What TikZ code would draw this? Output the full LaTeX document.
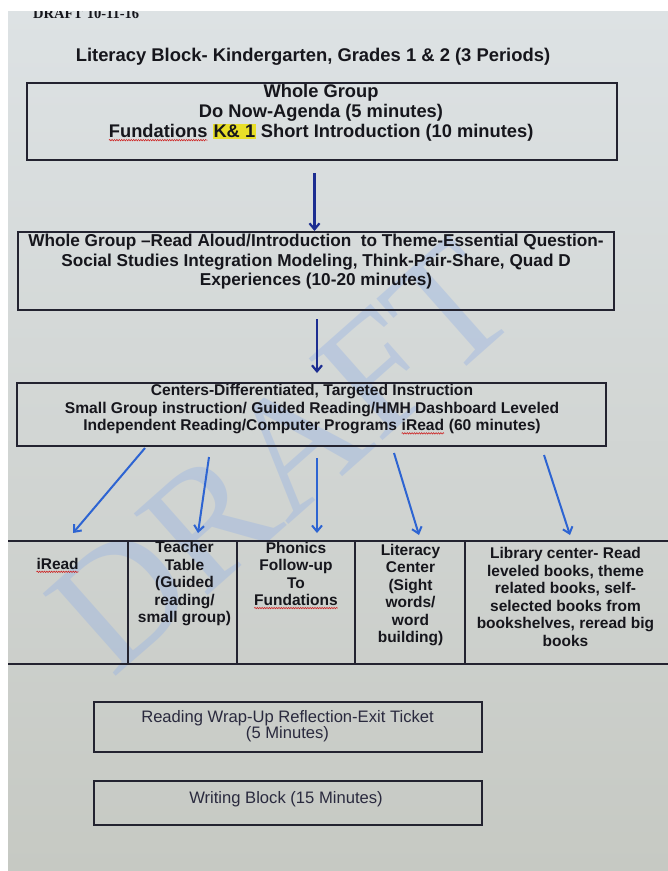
\documentclass[tikz,border=0pt]{standalone}
\usepackage{fontspec}
\setmainfont{Liberation Sans}
\newfontfamily\serifface{Liberation Serif}
\usetikzlibrary{arrows.meta,decorations.pathmorphing}
\definecolor{bgtop}{RGB}{221,226,228}
\definecolor{bgbot}{RGB}{198,201,195}
\definecolor{ink}{RGB}{22,22,28}
\definecolor{inksoft}{RGB}{42,42,62}
\definecolor{boxline}{RGB}{35,35,48}
\definecolor{navyarrow}{RGB}{28,45,145}
\definecolor{bluearrow}{RGB}{45,100,210}
\definecolor{wmblue}{RGB}{150,178,228}
\definecolor{spellred}{RGB}{205,40,40}
\definecolor{hlyellow}{RGB}{232,222,40}
\newcommand\spellchk[1]{\tikz[baseline=(spw.base)]{\node[inner sep=0pt,outer sep=0pt,draw=none,fill=none,minimum size=0pt](spw){#1};\draw[spellred,line width=0.6pt,decorate,decoration={snake,amplitude=0.7pt,segment length=2.4pt}] ([yshift=-2.4pt]spw.base west) -- ([yshift=-2.4pt]spw.base east);}}
\newcommand\hlite[1]{{\setlength{\fboxsep}{0.6pt}\colorbox{hlyellow}{#1}}}
\begin{document}
\begin{tikzpicture}[x=1pt,y=-1pt,
  boxed/.style={draw=boxline,line width=1.4pt,inner sep=0pt,outer sep=0pt,fill=none},
  boxedthick/.style={boxed,line width=2.4pt},
  bigtext/.style={font=\fontsize{18.3}{20}\selectfont\bfseries,text=ink,inner sep=0pt,align=center},
  midtext/.style={font=\fontsize{17.2}{19.5}\selectfont\bfseries,text=ink,inner sep=0pt,align=center},
  smalltext/.style={font=\fontsize{15.6}{17.5}\selectfont\bfseries,text=ink,inner sep=0pt,align=center},
  celltext/.style={font=\fontsize{15.5}{17.5}\selectfont\bfseries,text=ink,inner sep=0pt,align=center},
  lowtext/.style={font=\fontsize{16.6}{16.5}\selectfont,text=inksoft,inner sep=0pt,align=center},
  cell/.style={inner sep=0pt,outer sep=0pt,minimum height=123pt},
  tbl/.style={draw=boxline,line width=1.3pt},
  arrowA/.style={draw=navyarrow,line width=2.2pt,-{Straight Barb[length=6pt,width=10pt]}},
  arrowB/.style={draw=bluearrow,line width=2pt,-{Straight Barb[length=6pt,width=10pt]}}
]
\useasboundingbox (0,0) rectangle (668,871);
\fill[white] (0,0) rectangle (668,871);
\begin{scope}
\clip (8,11) rectangle (668,871);
\shade[top color=bgtop,bottom color=bgbot] (8,11) rectangle (668,871);
% watermark
\node[rotate=41.5,text=wmblue,opacity=0.4,inner sep=0pt,font=\fontsize{168}{168}\selectfont\serifface] (wm) at (282,456) {DRAFT};
% draft stamp
\node[anchor=base west,inner sep=0pt,text=ink,font=\fontsize{14.5}{15}\selectfont\serifface\bfseries] (stamp) at (33,18.5) {DRAFT 10-11-16};

% title
\node[bigtext,font=\fontsize{18.4}{20}\selectfont\bfseries] (title) at (313,57) {Literacy Block- Kindergarten, Grades 1 \& 2 (3 Periods)};

% box 1
\node[boxed,minimum width=590pt,minimum height=77pt] (b1) at (322,121.5) {};
\node[bigtext] (b1t) at (321,113) {Whole Group\\Do Now-Agenda (5 minutes)\\\spellchk{Fundations} \hlite{K\& 1} Short Introduction (10 minutes)};

% box 2
\node[boxed,minimum width=596pt,minimum height=78pt] (b2) at (316,271) {};
\node[midtext] (b2t) at (316,262) {Whole Group --Read Aloud/Introduction\ \ to Theme-Essential Question-\\Social Studies Integration Modeling, Think-Pair-Share, Quad D\\Experiences (10-20 minutes)};

% box 3
\node[boxed,minimum width=589pt,minimum height=63pt] (b3) at (311.5,414.5) {};
\node[smalltext] (b3t) at (312,409.5) {Centers-Differentiated, Targeted Instruction\\Small Group instruction/ Guided Reading/HMH Dashboard Leveled\\Independent Reading/Computer Programs \spellchk{iRead} (60 minutes)};

% arrows between top boxes
\draw[arrowA] ([xshift=-7.5pt,yshift=-13pt]b1.south) -- ([xshift=-1.5pt,yshift=1pt]b2.north);
\draw[arrowA] ([xshift=1pt,yshift=-9pt]b2.south) -- ([xshift=5.5pt,yshift=10pt]b3.north);

% table cells
\node[cell,minimum width=120pt] (c1) at (68,602.5) {};
\node[cell,minimum width=109pt] (c2) at (182.5,602.5) {};
\node[cell,minimum width=118pt] (c3) at (296,602.5) {};
\node[cell,minimum width=110pt] (c4) at (410,602.5) {};
\node[cell,minimum width=203pt] (c5) at (566.5,602.5) {};
\draw[tbl] (c1.north west) -- (c5.north east);
\draw[tbl] (c1.south west) -- (c5.south east);
\draw[tbl] (c1.north east) -- (c1.south east);
\draw[tbl] (c2.north east) -- (c2.south east);
\draw[tbl] (c3.north east) -- (c3.south east);
\draw[tbl] (c4.north east) -- (c4.south east);

\node[celltext,anchor=west] (t1) at (36,565.5) {\spellchk{iRead}};
\node[celltext] (t2) at (184.5,584) {Teacher\\Table\\(Guided\\reading/\\small group)};
\node[celltext] (t3) at (296,575.5) {Phonics\\Follow-up\\To\\\spellchk{Fundations}};
\node[celltext] (t4) at (410.5,595) {Literacy\\Center\\(Sight\\words/\\word\\building)};
\node[celltext] (t5) at (565.5,597) {Library center- Read\\leveled books, theme\\related books, self-\\selected books from\\bookshelves, reread big\\books};

% fan-out arrows
\coordinate (s1) at (145,448); \coordinate (e1) at (73,533);
\coordinate (s2) at (209,457); \coordinate (e2) at (198,533);
\coordinate (s3) at (317,458); \coordinate (e3) at (317,533);
\coordinate (s4) at (394,453); \coordinate (e4) at (419,535);
\coordinate (s5) at (544,455); \coordinate (e5) at (570,535);
\draw[arrowB] (s1) -- (e1);
\draw[arrowB] (s2) -- (e2);
\draw[arrowB] (s3) -- (e3);
\draw[arrowB] (s4) -- (e4);
\draw[arrowB] (s5) -- (e5);

% bottom boxes
\node[boxedthick,minimum width=388pt,minimum height=50pt] (b4) at (288,727) {};
\node[lowtext] (b4t) at (287.5,726) {Reading Wrap-Up Reflection-Exit Ticket\\(5 Minutes)};
\node[boxedthick,minimum width=388pt,minimum height=44pt] (b5) at (288,803) {};
\node[lowtext] (b5t) at (286,799) {Writing Block (15 Minutes)};
\end{scope}
\end{tikzpicture}
\end{document}
